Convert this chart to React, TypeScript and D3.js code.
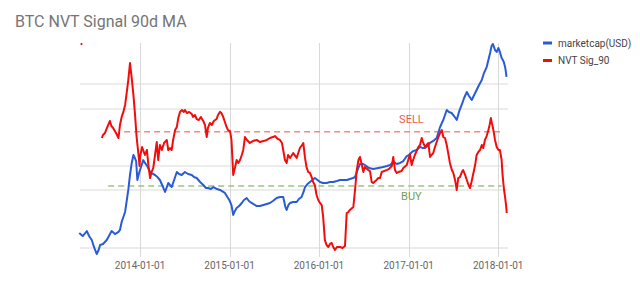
import React from "react";
import * as d3 from "d3";

const TITLE = "BTC NVT Signal 90d MA";

// marketcap in billions USD
const marketcapSeries: [string, number][] = [
  ["2013-04-28", 1.52], ["2013-05-12", 1.40], ["2013-05-29", 1.61], ["2013-06-07", 1.40], ["2013-06-18", 1.25],
  ["2013-06-27", 1.03], ["2013-07-08", 0.845], ["2013-07-16", 0.946], ["2013-07-22", 1.09], ["2013-08-03", 1.12],
  ["2013-08-18", 1.25], ["2013-08-27", 1.40], ["2013-09-07", 1.61], ["2013-09-21", 1.48], ["2013-10-05", 1.57],
  ["2013-10-11", 1.66], ["2013-10-18", 2.08], ["2013-10-25", 2.39], ["2013-11-01", 2.75], ["2013-11-08", 3.85],
  ["2013-11-14", 5.10], ["2013-11-21", 7.77], ["2013-11-28", 10.9], ["2013-12-05", 13.6], ["2013-12-11", 12.5],
  ["2013-12-16", 11.5], ["2013-12-21", 6.75], ["2013-12-28", 8.22], ["2014-01-01", 8.93], ["2014-01-14", 11.8],
  ["2014-01-21", 10.9], ["2014-01-30", 10.0], ["2014-02-11", 8.45], ["2014-02-23", 7.99], ["2014-03-03", 7.77],
  ["2014-03-13", 7.34], ["2014-03-23", 6.75], ["2014-04-03", 5.70], ["2014-04-13", 4.82], ["2014-04-26", 6.21],
  ["2014-05-10", 5.54], ["2014-05-20", 6.75], ["2014-05-31", 8.45], ["2014-06-09", 7.99], ["2014-06-20", 7.77],
  ["2014-07-03", 8.45], ["2014-07-16", 7.99], ["2014-07-31", 7.77], ["2014-08-09", 7.34], ["2014-08-20", 7.14],
  ["2014-09-03", 6.38], ["2014-09-16", 5.86], ["2014-09-27", 5.39], ["2014-10-06", 5.39], ["2014-10-17", 5.24],
  ["2014-10-27", 5.54], ["2014-11-11", 5.24], ["2014-11-23", 5.10], ["2014-12-13", 4.69], ["2014-12-31", 3.85],
  ["2015-01-09", 3.34], ["2015-01-16", 2.53], ["2015-01-23", 2.83], ["2015-01-30", 3.07], ["2015-02-09", 3.25],
  ["2015-02-20", 3.54], ["2015-03-01", 3.85], ["2015-03-12", 4.07], ["2015-03-21", 3.74], ["2015-04-01", 3.54],
  ["2015-04-22", 3.25], ["2015-05-05", 3.25], ["2015-05-19", 3.34], ["2015-06-02", 3.44], ["2015-06-15", 3.54],
  ["2015-06-27", 3.74], ["2015-07-12", 4.07], ["2015-07-26", 4.19], ["2015-08-08", 4.19], ["2015-08-17", 3.16],
  ["2015-08-22", 2.91], ["2015-08-29", 3.34], ["2015-09-05", 3.54], ["2015-09-17", 3.64], ["2015-10-02", 3.64],
  ["2015-10-11", 3.96], ["2015-10-22", 4.19], ["2015-10-30", 4.82], ["2015-11-05", 5.54], ["2015-11-15", 6.03],
  ["2015-11-25", 6.38], ["2015-12-05", 6.75], ["2015-12-15", 7.14], ["2015-12-26", 6.75], ["2016-01-05", 6.38],
  ["2016-01-17", 6.21], ["2016-02-01", 6.21], ["2016-02-15", 6.38], ["2016-02-28", 6.38], ["2016-03-14", 6.56],
  ["2016-03-27", 6.75], ["2016-04-09", 6.75], ["2016-04-24", 6.75], ["2016-05-06", 6.94], ["2016-05-19", 7.14],
  ["2016-05-27", 7.34], ["2016-06-06", 8.93], ["2016-06-16", 10.6], ["2016-06-27", 10.6], ["2016-07-06", 10.3],
  ["2016-07-23", 9.46], ["2016-08-09", 9.19], ["2016-08-30", 9.46], ["2016-09-19", 9.72], ["2016-10-04", 10.0],
  ["2016-10-17", 10.3], ["2016-10-30", 11.2], ["2016-11-13", 10.6], ["2016-11-27", 10.9], ["2016-12-10", 11.5],
  ["2016-12-24", 13.2], ["2017-01-02", 13.6], ["2017-01-10", 14.4], ["2017-01-19", 15.2], ["2017-02-02", 15.7],
  ["2017-02-16", 17.1], ["2017-02-26", 16.6], ["2017-03-09", 16.6], ["2017-03-19", 17.5], ["2017-03-29", 19.1],
  ["2017-04-11", 20.2], ["2017-04-25", 21.9], ["2017-05-09", 29.9], ["2017-05-16", 33.4], ["2017-05-22", 36.4],
  ["2017-06-05", 48.2], ["2017-06-14", 45.6], ["2017-06-25", 44.3], ["2017-07-05", 40.7], ["2017-07-16", 36.4],
  ["2017-07-25", 45.6], ["2017-08-05", 55.5], ["2017-08-15", 67.5], ["2017-08-26", 79.8], ["2017-09-04", 71.4],
  ["2017-09-15", 63.8], ["2017-09-25", 73.5], ["2017-10-05", 84.5], ["2017-10-15", 97.3], ["2017-10-26", 112],
  ["2017-11-04", 136], ["2017-11-15", 161], ["2017-11-22", 196], ["2017-11-29", 239], ["2017-12-05", 291],
  ["2017-12-10", 308], ["2017-12-15", 282], ["2017-12-19", 260], ["2017-12-26", 246], ["2018-01-02", 275],
  ["2018-01-08", 246], ["2018-01-15", 207], ["2018-01-20", 196], ["2018-01-24", 185], ["2018-01-30", 157],
  ["2018-02-04", 122],
];

const nvtSeries: [string, number | null][] = [
  ["2013-05-07", 140.1], ["2013-05-08", null],
  ["2013-07-29", 82.1], ["2013-08-03", 84.0], ["2013-08-11", 85.2], ["2013-08-19", 88.3], ["2013-08-31", 92.6],
  ["2013-09-06", 89.5], ["2013-09-13", 88.3], ["2013-09-25", 85.2], ["2013-10-05", 82.1], ["2013-10-11", 90.1],
  ["2013-10-18", 95.1], ["2013-10-25", 98.2], ["2013-11-01", 102.5], ["2013-11-08", 110.5], ["2013-11-14", 117.9],
  ["2013-11-21", 128.4], ["2013-11-28", 119.1], ["2013-12-05", 108.6], ["2013-12-11", 97.5], ["2013-12-18", 82.7],
  ["2013-12-25", 72.8], ["2013-12-30", 64.8], ["2014-01-01", 70.4], ["2014-01-09", 76.5], ["2014-01-21", 71.6],
  ["2014-01-29", 74.7], ["2014-02-04", 65.4], ["2014-02-11", 57.4], ["2014-02-17", 61.1], ["2014-02-24", 63.6],
  ["2014-03-03", 71.6], ["2014-03-10", 79.6], ["2014-03-16", 68.5], ["2014-03-23", 77.8], ["2014-03-31", 74.7],
  ["2014-04-09", 79.0], ["2014-04-20", 80.9], ["2014-04-26", 74.7], ["2014-05-03", 75.9], ["2014-05-10", 74.7],
  ["2014-05-16", 80.9], ["2014-05-24", 87.0], ["2014-05-31", 88.9], ["2014-06-06", 94.4], ["2014-06-13", 98.2],
  ["2014-06-21", 99.4], ["2014-06-29", 98.2], ["2014-07-03", 99.4], ["2014-07-11", 97.5], ["2014-07-20", 98.2],
  ["2014-07-31", 96.9], ["2014-08-05", 95.1], ["2014-08-13", 96.3], ["2014-08-20", 93.8], ["2014-08-29", 93.2],
  ["2014-09-06", 95.1], ["2014-09-16", 92.6], ["2014-09-23", 90.1], ["2014-09-30", 82.7], ["2014-10-05", 88.3],
  ["2014-10-13", 91.4], ["2014-10-21", 90.1], ["2014-10-29", 92.6], ["2014-11-09", 93.8], ["2014-11-15", 96.3],
  ["2014-11-23", 98.2], ["2014-11-29", 97.5], ["2014-12-06", 95.1], ["2014-12-13", 92.0], ["2014-12-20", 88.9],
  ["2014-12-26", 87.0], ["2015-01-03", 86.4], ["2015-01-09", 80.9], ["2015-01-13", 68.5], ["2015-01-16", 59.3],
  ["2015-01-23", 63.6], ["2015-01-30", 68.5], ["2015-02-06", 66.7], ["2015-02-13", 68.5], ["2015-02-20", 71.6],
  ["2015-02-26", 74.7], ["2015-03-05", 82.7], ["2015-03-13", 80.9], ["2015-03-25", 79.0], ["2015-04-06", 80.2],
  ["2015-04-22", 80.9], ["2015-05-05", 79.6], ["2015-05-19", 80.2], ["2015-06-02", 80.9], ["2015-06-15", 82.1],
  ["2015-06-27", 82.7], ["2015-07-05", 83.3], ["2015-07-17", 81.5], ["2015-07-26", 80.9], ["2015-08-03", 79.0],
  ["2015-08-08", 74.7], ["2015-08-15", 68.5], ["2015-08-22", 66.7], ["2015-08-28", 71.6], ["2015-09-05", 69.8],
  ["2015-09-18", 72.8], ["2015-10-02", 69.8], ["2015-10-15", 75.9], ["2015-10-24", 77.8], ["2015-10-29", 79.0],
  ["2015-11-05", 69.8], ["2015-11-11", 64.2], ["2015-11-18", 61.1], ["2015-11-25", 60.5], ["2015-12-02", 58.0],
  ["2015-12-08", 54.9], ["2015-12-15", 53.1], ["2015-12-22", 46.9], ["2015-12-29", 43.8], ["2016-01-05", 42.0],
  ["2016-01-12", 40.7], ["2016-01-18", 33.3], ["2016-01-25", 19.1], ["2016-02-01", 16.0], ["2016-02-08", 14.8],
  ["2016-02-15", 16.7], ["2016-02-22", 17.3], ["2016-02-28", 14.8], ["2016-03-06", 13.0], ["2016-03-14", 14.8],
  ["2016-03-27", 14.8], ["2016-04-06", 14.2], ["2016-04-16", 15.4], ["2016-04-23", 35.8], ["2016-04-30", 36.4],
  ["2016-05-06", 37.7], ["2016-05-20", 39.5], ["2016-05-27", 50.0], ["2016-06-03", 62.3], ["2016-06-10", 68.5],
  ["2016-06-16", 70.4], ["2016-06-22", 66.7], ["2016-06-30", 61.1], ["2016-07-06", 64.2], ["2016-07-20", 62.3],
  ["2016-07-27", 61.7], ["2016-08-03", 54.9], ["2016-08-09", 54.3], ["2016-08-23", 56.2], ["2016-08-30", 57.4],
  ["2016-09-06", 57.4], ["2016-09-13", 61.1], ["2016-09-22", 61.7], ["2016-10-03", 62.3], ["2016-10-13", 63.0],
  ["2016-10-24", 64.8], ["2016-10-30", 70.4], ["2016-11-06", 62.3], ["2016-11-13", 60.5], ["2016-11-20", 61.1],
  ["2016-12-03", 61.7], ["2016-12-10", 63.6], ["2016-12-24", 65.4], ["2016-12-30", 68.5], ["2017-01-06", 72.2],
  ["2017-01-13", 65.4], ["2017-01-19", 68.5], ["2017-01-26", 71.6], ["2017-02-09", 76.5], ["2017-02-16", 77.8],
  ["2017-02-23", 82.1], ["2017-02-28", 79.6], ["2017-03-09", 76.5], ["2017-03-15", 77.8], ["2017-03-22", 79.0],
  ["2017-03-29", 70.4], ["2017-04-04", 71.6], ["2017-04-11", 72.8], ["2017-04-18", 76.5], ["2017-04-25", 79.6],
  ["2017-05-02", 82.7], ["2017-05-09", 85.2], ["2017-05-16", 87.0], ["2017-05-22", 82.7], ["2017-05-29", 82.1],
  ["2017-06-05", 77.8], ["2017-06-11", 72.8], ["2017-06-18", 66.7], ["2017-06-26", 62.3], ["2017-07-02", 60.5],
  ["2017-07-09", 56.2], ["2017-07-16", 50.0], ["2017-07-22", 57.4], ["2017-07-29", 58.0], ["2017-08-06", 61.1],
  ["2017-08-11", 62.3], ["2017-08-19", 59.3], ["2017-08-26", 56.2], ["2017-09-02", 53.1], ["2017-09-08", 51.2],
  ["2017-09-14", 54.9], ["2017-09-22", 60.5], ["2017-09-29", 65.4], ["2017-10-05", 71.6], ["2017-10-12", 73.5],
  ["2017-10-19", 74.7], ["2017-10-26", 77.8], ["2017-11-01", 75.9], ["2017-11-08", 80.9], ["2017-11-15", 83.3],
  ["2017-11-22", 87.0], ["2017-11-27", 90.1], ["2017-12-02", 94.4], ["2017-12-07", 90.7], ["2017-12-10", 88.9],
  ["2017-12-15", 84.6], ["2017-12-19", 80.9], ["2017-12-26", 76.5], ["2018-01-02", 74.7], ["2018-01-08", 74.7],
  ["2018-01-15", 68.5], ["2018-01-18", 61.1], ["2018-01-22", 54.3], ["2018-01-25", 50.0], ["2018-01-29", 45.7],
  ["2018-02-02", 40.7], ["2018-02-05", 35.8],
];

const sellLevel = 86;
const buyLevel = 52.5;
const sellRange: [string, string] = ["2013-10-28", "2018-01-08"];
const buyRange: [string, string] = ["2013-08-24", "2018-01-15"];
const annotationDate = "2017-01-12";
const xTickLabels = ["2014-01-01", "2015-01-01", "2016-01-01", "2017-01-01", "2018-01-01"];
const marketcapGrid = [1, 10, 100];
const nvtGrid = [50, 100];
const xDomain: [string, string] = ["2013-05-01", "2018-02-10"];
const legendItems = [
  { label: "marketcap(USD)", color: "#2a5bd7" },
  { label: "NVT Sig_90", color: "#f20d0d" },
];

const W = 640;
const H = 285;
const plot = { left: 80, right: 508, top: 43, bottom: 257 };
const FONT = "Roboto, 'Noto Sans', Arial, sans-serif";

export default function App() {
  const parse = d3.utcParse("%Y-%m-%d");
  const x = d3
    .scaleUtc()
    .domain(xDomain.map((d) => parse(d) as Date))
    .range([plot.left, plot.right]);
  const yCap = d3.scaleLog().domain([1, 100]).range([248, 84]);
  const yNvt = d3.scaleLinear().domain([50, 100]).range([190, 109]);

  const capLine = d3
    .line<[string, number]>()
    .x((d) => x(parse(d[0]) as Date))
    .y((d) => yCap(d[1]))
    .curve(d3.curveLinear);

  const nvtLine = d3
    .line<[string, number | null]>()
    .defined((d) => d[1] !== null)
    .x((d) => x(parse(d[0]) as Date))
    .y((d) => yNvt(d[1] as number));

  const isolated = nvtSeries.filter(
    (d, i) =>
      d[1] !== null &&
      (i === 0 || nvtSeries[i - 1][1] === null) &&
      (i === nvtSeries.length - 1 || nvtSeries[i + 1][1] === null)
  );

  const ax = x(parse(annotationDate) as Date);

  return (
    <svg
      width={W}
      height={H}
      style={{ position: "absolute", left: 0, top: 0, background: "#fff", display: "block" }}
      fontFamily={FONT}
    >
      <rect x={0} y={0} width={W} height={H} fill="#fff" />
      <text x={15} y={27} fontSize={16} fill="#757575">
        {TITLE}
      </text>

      {/* horizontal gridlines */}
      {marketcapGrid.map((v) => (
        <line key={"gc" + v} x1={plot.left} x2={plot.right} y1={yCap(v)} y2={yCap(v)} stroke="#d9d9d9" strokeWidth={1} />
      ))}
      {nvtGrid.map((v) => (
        <line key={"gn" + v} x1={plot.left} x2={plot.right} y1={yNvt(v)} y2={yNvt(v)} stroke="#d9d9d9" strokeWidth={1} />
      ))}
      {/* vertical gridlines */}
      {xTickLabels.map((t) => {
        const xx = Math.round(x(parse(t) as Date)) + 0.5;
        return <line key={"gx" + t} x1={xx} x2={xx} y1={plot.top} y2={plot.bottom} stroke="#d9d9d9" strokeWidth={1} />;
      })}
      {xTickLabels.map((t) => (
        <text key={"tx" + t} x={x(parse(t) as Date)} y={269} fontSize={10} fill="#666" textAnchor="middle">
          {t}
        </text>
      ))}

      {/* threshold lines */}
      <line
        x1={x(parse(sellRange[0]) as Date)}
        x2={x(parse(sellRange[1]) as Date)}
        y1={yNvt(sellLevel)}
        y2={yNvt(sellLevel)}
        stroke="#f4897d"
        strokeWidth={1.5}
        strokeDasharray="6,4"
      />
      <line
        x1={x(parse(buyRange[0]) as Date)}
        x2={x(parse(buyRange[1]) as Date)}
        y1={yNvt(buyLevel)}
        y2={yNvt(buyLevel)}
        stroke="#9cc283"
        strokeWidth={1.5}
        strokeDasharray="6,4"
      />

      <path d={capLine(marketcapSeries) || ""} fill="none" stroke={legendItems[0].color} strokeWidth={2} strokeLinejoin="round" />
      <path d={nvtLine(nvtSeries) || ""} fill="none" stroke={legendItems[1].color} strokeWidth={2} strokeLinejoin="round" />
      {isolated.map((d) => (
        <circle key={"iso" + d[0]} cx={x(parse(d[0]) as Date)} cy={yNvt(d[1] as number)} r={1.1} fill={legendItems[1].color} />
      ))}

      <text x={ax} y={yNvt(sellLevel) - 9} fontSize={11} fill="#f05a48" textAnchor="middle">
        SELL
      </text>
      <text x={ax} y={yNvt(buyLevel) + 14} fontSize={11} fill="#6f9e52" textAnchor="middle">
        BUY
      </text>

      {/* legend */}
      {legendItems.map((it, i) => (
        <g key={it.label} transform={`translate(543, ${43 + i * 17.5})`}>
          <line x1={0} x2={9} y1={0} y2={0} stroke={it.color} strokeWidth={3} />
          <text x={15} y={3.5} fontSize={10} fill="#444">
            {it.label}
          </text>
        </g>
      ))}
    </svg>
  );
}
